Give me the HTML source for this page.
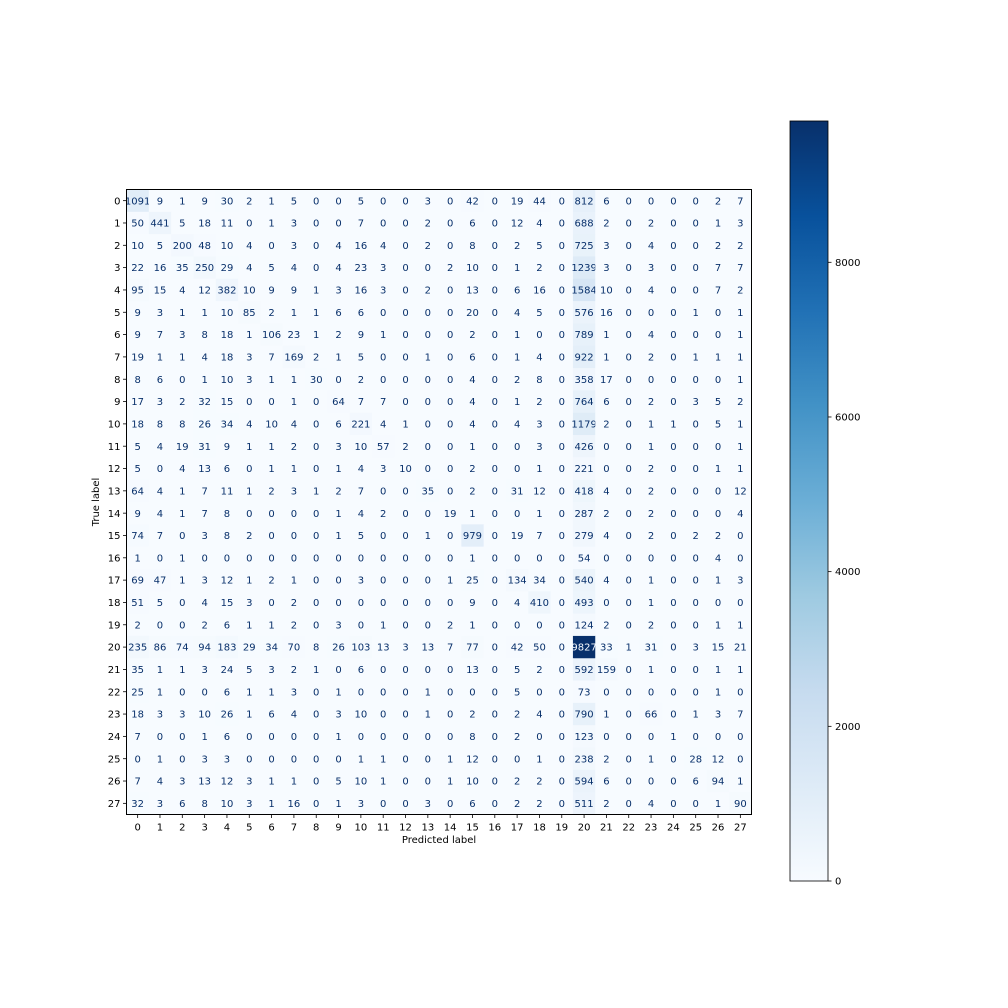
<!DOCTYPE html>
<html><head><meta charset="utf-8">
<style>
html,body{margin:0;padding:0;background:#fff;}
svg{display:block;font-family:"DejaVu Sans","Liberation Sans",sans-serif;}
</style></head>
<body>
<svg id="chart" width="1008" height="1008" viewBox="0 0 1008 1008" xmlns="http://www.w3.org/2000/svg">
<defs>
<linearGradient id="cbgrad" x1="0" y1="1" x2="0" y2="0">
<stop offset="0" stop-color="#f7fbff"/><stop offset="0.125" stop-color="#deebf7"/><stop offset="0.25" stop-color="#c6dbef"/><stop offset="0.375" stop-color="#9ecae1"/><stop offset="0.5" stop-color="#6baed6"/><stop offset="0.625" stop-color="#4292c6"/><stop offset="0.75" stop-color="#2171b5"/><stop offset="0.875" stop-color="#08519c"/><stop offset="1" stop-color="#08306b"/>
</linearGradient>
</defs>
<rect width="1008" height="1008" fill="#fff"/>
<g id="cells"></g>
<g id="axes"></g>
</svg>
<script>
const classLabels = ["0","1","2","3","4","5","6","7","8","9","10","11","12","13","14","15","16","17","18","19","20","21","22","23","24","25","26","27"];
const row0=[1091,9,1,9,30,2,1,5,0,0,5,0,0,3,0,42,0,19,44,0,812,6,0,0,0,0,2,7];
const row1=[50,441,5,18,11,0,1,3,0,0,7,0,0,2,0,6,0,12,4,0,688,2,0,2,0,0,1,3];
const row2=[10,5,200,48,10,4,0,3,0,4,16,4,0,2,0,8,0,2,5,0,725,3,0,4,0,0,2,2];
const row3=[22,16,35,250,29,4,5,4,0,4,23,3,0,0,2,10,0,1,2,0,1239,3,0,3,0,0,7,7];
const row4=[95,15,4,12,382,10,9,9,1,3,16,3,0,2,0,13,0,6,16,0,1584,10,0,4,0,0,7,2];
const row5=[9,3,1,1,10,85,2,1,1,6,6,0,0,0,0,20,0,4,5,0,576,16,0,0,0,1,0,1];
const row6=[9,7,3,8,18,1,106,23,1,2,9,1,0,0,0,2,0,1,0,0,789,1,0,4,0,0,0,1];
const row7=[19,1,1,4,18,3,7,169,2,1,5,0,0,1,0,6,0,1,4,0,922,1,0,2,0,1,1,1];
const row8=[8,6,0,1,10,3,1,1,30,0,2,0,0,0,0,4,0,2,8,0,358,17,0,0,0,0,0,1];
const row9=[17,3,2,32,15,0,0,1,0,64,7,7,0,0,0,4,0,1,2,0,764,6,0,2,0,3,5,2];
const row10=[18,8,8,26,34,4,10,4,0,6,221,4,1,0,0,4,0,4,3,0,1179,2,0,1,1,0,5,1];
const row11=[5,4,19,31,9,1,1,2,0,3,10,57,2,0,0,1,0,0,3,0,426,0,0,1,0,0,0,1];
const row12=[5,0,4,13,6,0,1,1,0,1,4,3,10,0,0,2,0,0,1,0,221,0,0,2,0,0,1,1];
const row13=[64,4,1,7,11,1,2,3,1,2,7,0,0,35,0,2,0,31,12,0,418,4,0,2,0,0,0,12];
const row14=[9,4,1,7,8,0,0,0,0,1,4,2,0,0,19,1,0,0,1,0,287,2,0,2,0,0,0,4];
const row15=[74,7,0,3,8,2,0,0,0,1,5,0,0,1,0,979,0,19,7,0,279,4,0,2,0,2,2,0];
const row16=[1,0,1,0,0,0,0,0,0,0,0,0,0,0,0,1,0,0,0,0,54,0,0,0,0,0,4,0];
const row17=[69,47,1,3,12,1,2,1,0,0,3,0,0,0,1,25,0,134,34,0,540,4,0,1,0,0,1,3];
const row18=[51,5,0,4,15,3,0,2,0,0,0,0,0,0,0,9,0,4,410,0,493,0,0,1,0,0,0,0];
const row19=[2,0,0,2,6,1,1,2,0,3,0,1,0,0,2,1,0,0,0,0,124,2,0,2,0,0,1,1];
const row20=[235,86,74,94,183,29,34,70,8,26,103,13,3,13,7,77,0,42,50,0,9827,33,1,31,0,3,15,21];
const row21=[35,1,1,3,24,5,3,2,1,0,6,0,0,0,0,13,0,5,2,0,592,159,0,1,0,0,1,1];
const row22=[25,1,0,0,6,1,1,3,0,1,0,0,0,1,0,0,0,5,0,0,73,0,0,0,0,0,1,0];
const row23=[18,3,3,10,26,1,6,4,0,3,10,0,0,1,0,2,0,2,4,0,790,1,0,66,0,1,3,7];
const row24=[7,0,0,1,6,0,0,0,0,1,0,0,0,0,0,8,0,2,0,0,123,0,0,0,1,0,0,0];
const row25=[0,1,0,3,3,0,0,0,0,0,1,1,0,0,1,12,0,0,1,0,238,2,0,1,0,28,12,0];
const row26=[7,4,3,13,12,3,1,1,0,5,10,1,0,0,1,10,0,2,2,0,594,6,0,0,0,6,94,1];
const row27=[32,3,6,8,10,3,1,16,0,1,3,0,0,3,0,6,0,2,2,0,511,2,0,4,0,0,1,90];
const matrix=[row0,row1,row2,row3,row4,row5,row6,row7,row8,row9,row10,row11,row12,row13,row14,row15,row16,row17,row18,row19,row20,row21,row22,row23,row24,row25,row26,row27];
const colorbarTicks=[0,2000,4000,6000,8000];

const NS="http://www.w3.org/2000/svg";
const AX={x:126.5,y:189.5,w:625,h:625};
const CB={x:790,y:121,w:38,h:760};
const n=classLabels.length;
let vmax=0,vmin=Infinity;
matrix.forEach(r=>r.forEach(v=>{vmax=Math.max(vmax,v);vmin=Math.min(vmin,v);}));
const cw=AX.w/n, ch=AX.h/n;
const xs=i=>AX.x+i*cw;
const ys=i=>AX.y+i*ch;
const cbY=v=>CB.y+CB.h-(v-vmin)/(vmax-vmin)*CB.h;
const stops=[[247,251,255],[222,235,247],[198,219,239],[158,202,225],[107,174,214],[66,146,198],[33,113,181],[8,81,156],[8,48,107]];
function blues(t){t=Math.max(0,Math.min(1,t));const p=t*8;const i=Math.min(7,Math.floor(p));const f=p-i;const a=stops[i],b=stops[i+1];
return `rgb(${Math.round(a[0]+(b[0]-a[0])*f)},${Math.round(a[1]+(b[1]-a[1])*f)},${Math.round(a[2]+(b[2]-a[2])*f)})`;}
function mk(tag,attrs,parent,text){const e=document.createElementNS(NS,tag);for(const k in attrs)e.setAttribute(k,attrs[k]);if(text!==undefined)e.textContent=text;parent.appendChild(e);return e;}
const cells=document.getElementById('cells');
const axes=document.getElementById('axes');
const thresh=(vmax+vmin)/2;
matrix.forEach((r,i)=>r.forEach((v,j)=>{
  const rc=mk('rect',{x:xs(j),y:ys(i),width:cw+0.5,height:ch+0.5,fill:blues((v-vmin)/(vmax-vmin))},cells);
  
  
  const t=mk('text',{x:xs(j)+cw/2,y:ys(i)+ch/2+3.6,'text-anchor':'middle','font-size':'10',fill:v>thresh?'#f7fbff':'#08306b'},cells,String(v));
  
  
}));
const fr=mk('rect',{x:AX.x,y:AX.y,width:AX.w,height:AX.h,fill:'none',stroke:'#000','stroke-width':1},axes);


classLabels.forEach((lab,i)=>{
  const cx=xs(i)+cw/2, cy=ys(i)+ch/2;
  mk('line',{x1:cx,y1:AX.y+AX.h,x2:cx,y2:AX.y+AX.h+3.5,stroke:'#000','stroke-width':0.8},axes);
  const xt=mk('text',{x:cx,y:AX.y+AX.h+16,'text-anchor':'middle','font-size':'10',fill:'#000'},axes,lab);
  
  
  mk('line',{x1:AX.x-3.5,y1:cy,x2:AX.x,y2:cy,stroke:'#000','stroke-width':0.8},axes);
  const yt=mk('text',{x:AX.x-6,y:cy+3.6,'text-anchor':'end','font-size':'10',fill:'#000'},axes,lab);
  
  
});
const xl=mk('text',{x:AX.x+AX.w/2,y:843,'text-anchor':'middle','font-size':'10',fill:'#000'},axes,'Predicted label');


const yl=mk('text',{x:0,y:0,'text-anchor':'middle','font-size':'10',fill:'#000',transform:`translate(99,${AX.y+AX.h/2}) rotate(-90)`},axes,'True label');


const cb=mk('rect',{x:CB.x,y:CB.y,width:CB.w,height:CB.h,fill:'url(#cbgrad)',stroke:'#000','stroke-width':0.8},axes);


colorbarTicks.forEach(v=>{
  const y=cbY(v);
  mk('line',{x1:CB.x+CB.w,y1:y,x2:CB.x+CB.w+3.5,y2:y,stroke:'#000','stroke-width':0.8},axes);
  const t=mk('text',{x:CB.x+CB.w+7,y:y+3.6,'font-size':'10',fill:'#000'},axes,String(v));
  
  
});
</script>
</body></html>
